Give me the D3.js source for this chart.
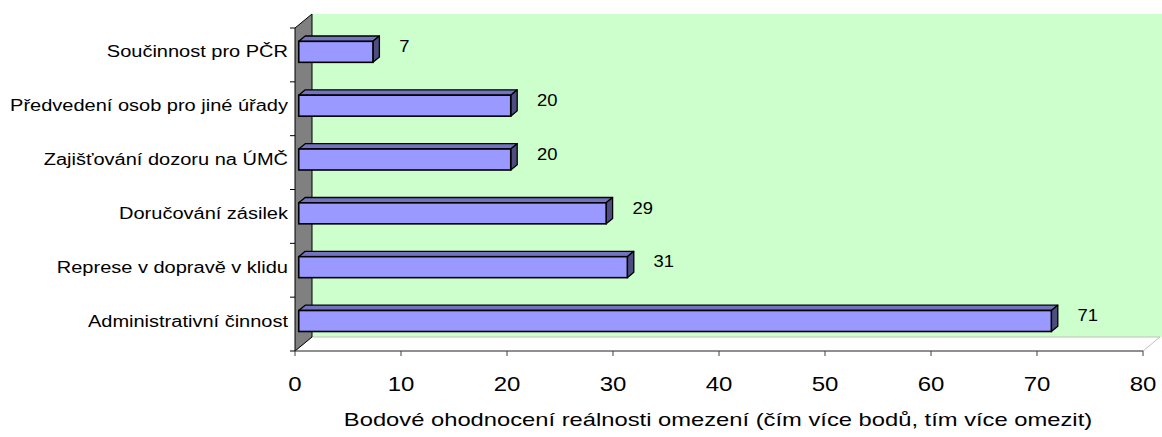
<!DOCTYPE html>
<html>
<head>
<meta charset="utf-8">
<script src="https://cdn.jsdelivr.net/npm/d3@7"></script>
<style>
  body { margin: 0; background: #fff; }
  text { font-family: "Liberation Sans", Arial, sans-serif; fill: #000; }
</style>
</head>
<body>
<div class="root"></div>
<script>
var categories = ['Součinnost pro PČR', 'Předvedení osob pro jiné úřady', 'Zajišťování dozoru na ÚMČ',
                  'Doručování zásilek', 'Represe v dopravě v klidu', 'Administrativní činnost'];
var values = [7, 20, 20, 29, 31, 71];
var ticks = [0, 10, 20, 30, 40, 50, 60, 70, 80];
var axisTitle = 'Bodové ohodnocení reálnosti omezení (čím více bodů, tím více omezit)';

function runChart() {
  var w = 1162, h = 437;
  var left = 295, right = 1143, top = 28, bottom = 351;
  var dx = 17, dy = -14;      // depth of the 3d box
  var d0 = 0.22, d1 = 0.6;    // bar front / back inside the depth
  var sx = 1.25;              // picture is stretched sideways, so is the text

  var svg = d3.select('.root').append('svg')
    .attr('width', w)
    .attr('height', h);

  var x = d3.scaleLinear().domain([0, 80]).range([left, right]);
  var y = d3.scaleBand().domain(categories).range([top, bottom]).paddingInner(0.61).paddingOuter(0.305);
  var yb = d3.scaleBand().domain(categories).range([top, bottom]);

  function pts(a) { return a.map(function(p) { return p.join(','); }).join(' '); }
  function at(px, py, s) { return 'translate(' + px + ',' + py + ') scale(' + (s || sx) + ',1)'; }

  // back wall
  svg.append('polygon')
    .attr('points', pts([[left + dx, top + dy], [w + 5, top + dy], [w + 5, bottom + dy], [left + dx, bottom + dy]]))
    .style('fill', '#ccffcc');

  // floor
  svg.append('polygon')
    .attr('points', pts([[left, bottom], [right, bottom], [right + dx, bottom + dy], [left + dx, bottom + dy]]))
    .style('fill', '#fff')
    .style('stroke', '#c0c0c0')
    .style('stroke-width', 1);

  // side wall
  svg.append('polygon')
    .attr('points', pts([[left, top], [left + dx, top + dy], [left + dx, bottom + dy], [left, bottom]]))
    .style('fill', '#808080')
    .style('stroke', '#000')
    .style('stroke-width', 1);

  // axes lines
  svg.append('line')
    .attr('x1', left).attr('x2', right).attr('y1', bottom).attr('y2', bottom)
    .style('stroke', '#404040').style('stroke-width', 1);

  svg.append('g').selectAll('line')
    .data(ticks)
    .enter().append('line')
      .attr('x1', function(d) { return x(d); })
      .attr('x2', function(d) { return x(d); })
      .attr('y1', bottom)
      .attr('y2', bottom + 5)
      .style('stroke', '#404040');

  svg.append('g').selectAll('text')
    .data(ticks)
    .enter().append('text')
      .attr('transform', function(d) { return at(x(d), 391, 1.2); })
      .attr('text-anchor', 'middle')
      .style('font-size', '20px')
      .text(function(d) { return d; });

  var catTicks = categories.map(function(c) { return yb(c); }).concat([bottom]);
  svg.append('g').selectAll('line')
    .data(catTicks)
    .enter().append('line')
      .attr('x1', left - 5)
      .attr('x2', left)
      .attr('y1', function(d) { return d; })
      .attr('y2', function(d) { return d; })
      .style('stroke', '#000');

  svg.append('g').selectAll('text')
    .data(categories)
    .enter().append('text')
      .attr('transform', function(d) { return at(288, y(d) + y.bandwidth() / 2 + dy * d0); })
      .attr('dy', '0.35em')
      .attr('text-anchor', 'end')
      .style('font-size', '16px')
      .text(function(d) { return d; });

  // bars
  var data = categories.map(function(c, i) { return {cat: c, value: values[i]}; });
  var bars = svg.append('g').selectAll('g')
    .data(data)
    .enter().append('g');

  var fx = dx * d0, fy = dy * d0, bx = dx * d1, by = dy * d1;

  bars.append('polygon')  // top face
    .attr('points', function(d) {
      var y0 = y(d.cat), x0 = x(0), x1 = x(d.value);
      return pts([[x0 + fx, y0 + fy], [x1 + fx, y0 + fy], [x1 + bx, y0 + by], [x0 + bx, y0 + by]]);
    })
    .style('fill', '#7373bf').style('stroke', '#000').style('stroke-width', 1.3).style('stroke-linejoin', 'round');

  bars.append('polygon')  // end face
    .attr('points', function(d) {
      var y0 = y(d.cat), y1 = y0 + y.bandwidth(), x1 = x(d.value);
      return pts([[x1 + fx, y0 + fy], [x1 + bx, y0 + by], [x1 + bx, y1 + by], [x1 + fx, y1 + fy]]);
    })
    .style('fill', '#4d4d80').style('stroke', '#000').style('stroke-width', 1.3).style('stroke-linejoin', 'round');

  bars.append('rect')  // front face
    .attr('x', x(0) + fx)
    .attr('y', function(d) { return y(d.cat) + fy; })
    .attr('width', function(d) { return x(d.value) - x(0); })
    .attr('height', y.bandwidth())
    .style('fill', '#9999ff').style('stroke', '#000').style('stroke-width', 1.6);

  bars.append('text')
    .attr('transform', function(d) { return at(x(d.value) + 30, y(d.cat) + y.bandwidth() / 2 + by, 1.15); })
    .attr('dy', '0.35em')
    .style('font-size', '16px')
    .text(function(d) { return d.value; });

  svg.append('text')
    .attr('transform', at(718, 426))
    .attr('text-anchor', 'middle')
    .style('font-size', '19px')
    .text(axisTitle);
}

window.onload = function() {
  runChart();
}
</script>
</body>
</html>
